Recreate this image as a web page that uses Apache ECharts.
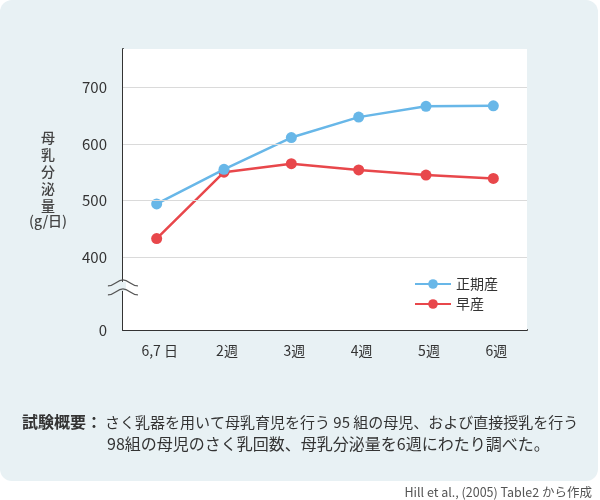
<!DOCTYPE html>
<html>
<head>
<meta charset="utf-8">
<script src="https://cdn.jsdelivr.net/npm/echarts@6/dist/echarts.min.js"></script>
<style>
html,body{margin:0;padding:0;background:#fff;}
#c{width:600px;height:500px;}
</style>
</head>
<body>
<div id="c"></div>
<script>
const categories = ['6,7 日', '2週', '3週', '4週', '5週', '6週'];
const termValues = [494, 555, 611, 647, 666, 667];
const pretermValues = [433, 550, 565, 554, 545, 539];
const seriesNames = ['正期産', '早産'];
const yTickLabels = [0, 400, 500, 600, 700];
const axisBreakValue = 272; // value displayed as "0" (axis is broken between 0 and 400)
const yMax = 767;

const FONT = '"Noto Sans CJK JP", "Noto Sans", sans-serif';
const BG = '#e8f1f4';
const BLUE = '#68b7e8';
const RED = '#e8474b';

const chart = echarts.init(document.getElementById('c'), null, {renderer: 'canvas'});

const labelValues = yTickLabels.map(v => v === 0 ? axisBreakValue : v);
const gridValues = yTickLabels.filter(v => v !== 0);

const option = {
  animation: false,
  backgroundColor: '#fff',
  textStyle: {fontFamily: FONT},
  grid: {
    left: 123, right: 73, top: 49, bottom: 170,
    show: true, backgroundColor: '#fff', borderWidth: 0, z: 1
  },
  legend: {
    data: seriesNames,
    orient: 'vertical',
    left: 409, top: 272,
    itemWidth: 36, itemHeight: 12, itemGap: 6,
    textStyle: {fontSize: 14, color: '#333', fontFamily: FONT}
  },
  xAxis: {
    type: 'category',
    data: categories,
    boundaryGap: true,
    axisLine: {lineStyle: {color: '#333', width: 2}},
    axisTick: {show: false},
    axisLabel: {fontSize: 14, color: '#333', margin: 14, fontFamily: FONT, padding: [0, 0, 0, 6]},
    splitLine: {show: false}
  },
  yAxis: {
    type: 'value',
    min: axisBreakValue, max: yMax,
    axisLine: {show: true, lineStyle: {color: '#333', width: 2}},
    axisTick: {show: false, customValues: gridValues},
    axisLabel: {
      customValues: labelValues,
      fontSize: 15, color: '#333', margin: 16, fontFamily: FONT,
      formatter: v => (v < 400 ? '0' : String(v))
    },
    splitLine: {show: false}
  },
  series: [
    {
      name: 'grid', type: 'line', data: [], z: 1, silent: true,
      markLine: {
        silent: true, symbol: 'none', animation: false,
        label: {show: false},
        lineStyle: {color: '#dadada', width: 1.2, type: 'solid'},
        data: gridValues.map(v => ({yAxis: v}))
      }
    },
    {
      name: seriesNames[0], type: 'line', data: termValues,
      symbol: 'circle', symbolSize: 11,
      lineStyle: {color: BLUE, width: 2.5},
      itemStyle: {color: BLUE}, z: 4
    },
    {
      name: seriesNames[1], type: 'line', data: pretermValues,
      symbol: 'circle', symbolSize: 11,
      lineStyle: {color: RED, width: 2.5},
      itemStyle: {color: RED}, z: 3
    }
  ]
};
chart.setOption(option);

// decorations: background box, axis name, break symbol, notes
const axisX = chart.convertToPixel({xAxisIndex: 0}, 0) - 33.75;
const brkY = chart.convertToPixel({yAxisIndex: 0}, 348);
const wave = (y) => ([
  {type: 'bezierCurve', z: 101, silent: true,
   shape: {x1: axisX - 15, y1: y + 3, cpx1: axisX - 8, cpy1: y + 3, cpx2: axisX - 6, cpy2: y - 3, x2: axisX, y2: y - 3},
   style: {stroke: '#555', lineWidth: 1.2, fill: null}},
  {type: 'bezierCurve', z: 101, silent: true,
   shape: {x1: axisX, y1: y - 3, cpx1: axisX + 6, cpy1: y - 3, cpx2: axisX + 8, cpy2: y + 3, x2: axisX + 15, y2: y + 3},
   style: {stroke: '#555', lineWidth: 1.2, fill: null}}
]);

chart.setOption({
  graphic: [
    {type: 'rect', z: -10, silent: true,
     shape: {x: 0, y: 0, width: 598, height: 481, r: 12},
     style: {fill: BG}},
    {type: 'text', x: 48, y: 129, z: 10,
     style: {text: '母\n乳\n分\n泌\n量', font: `500 14px ${FONT}`, fill: '#444', lineHeight: 17, textAlign: 'center', textVerticalAlign: 'top'}},
    {type: 'text', x: 48, y: 214, z: 10,
     style: {text: '(g/日)', font: `500 14px ${FONT}`, fill: '#444', textAlign: 'center', textVerticalAlign: 'top'}},
    {type: 'rect', z: 100, silent: true,
     shape: {x: axisX - 3, y: brkY - 5, width: 6, height: 9},
     style: {fill: BG}},
    ...wave(brkY - 4),
    ...wave(brkY + 5),
    {type: 'text', x: 22, y: 422, z: 10,
     style: {text: '試験概要：', font: `bold 16px ${FONT}`, fill: '#333', textVerticalAlign: 'middle'}},
    {type: 'text', x: 105, y: 422, z: 10,
     style: {text: 'さく乳器を用いて母乳育児を行う 95 組の母児、および直接授乳を行う', font: `15px ${FONT}`, fill: '#333', textVerticalAlign: 'middle'}},
    {type: 'text', x: 107, y: 444, z: 10,
     style: {text: '98組の母児のさく乳回数、母乳分泌量を6週にわたり調べた。', font: `16px ${FONT}`, fill: '#333', textVerticalAlign: 'middle'}},
    {type: 'text', x: 592, y: 492, z: 10,
     style: {text: 'Hill et al., (2005) Table2 から作成', font: `12.5px ${FONT}`, fill: '#555', textAlign: 'right', textVerticalAlign: 'middle'}}
  ]
});
</script>
</body>
</html>
